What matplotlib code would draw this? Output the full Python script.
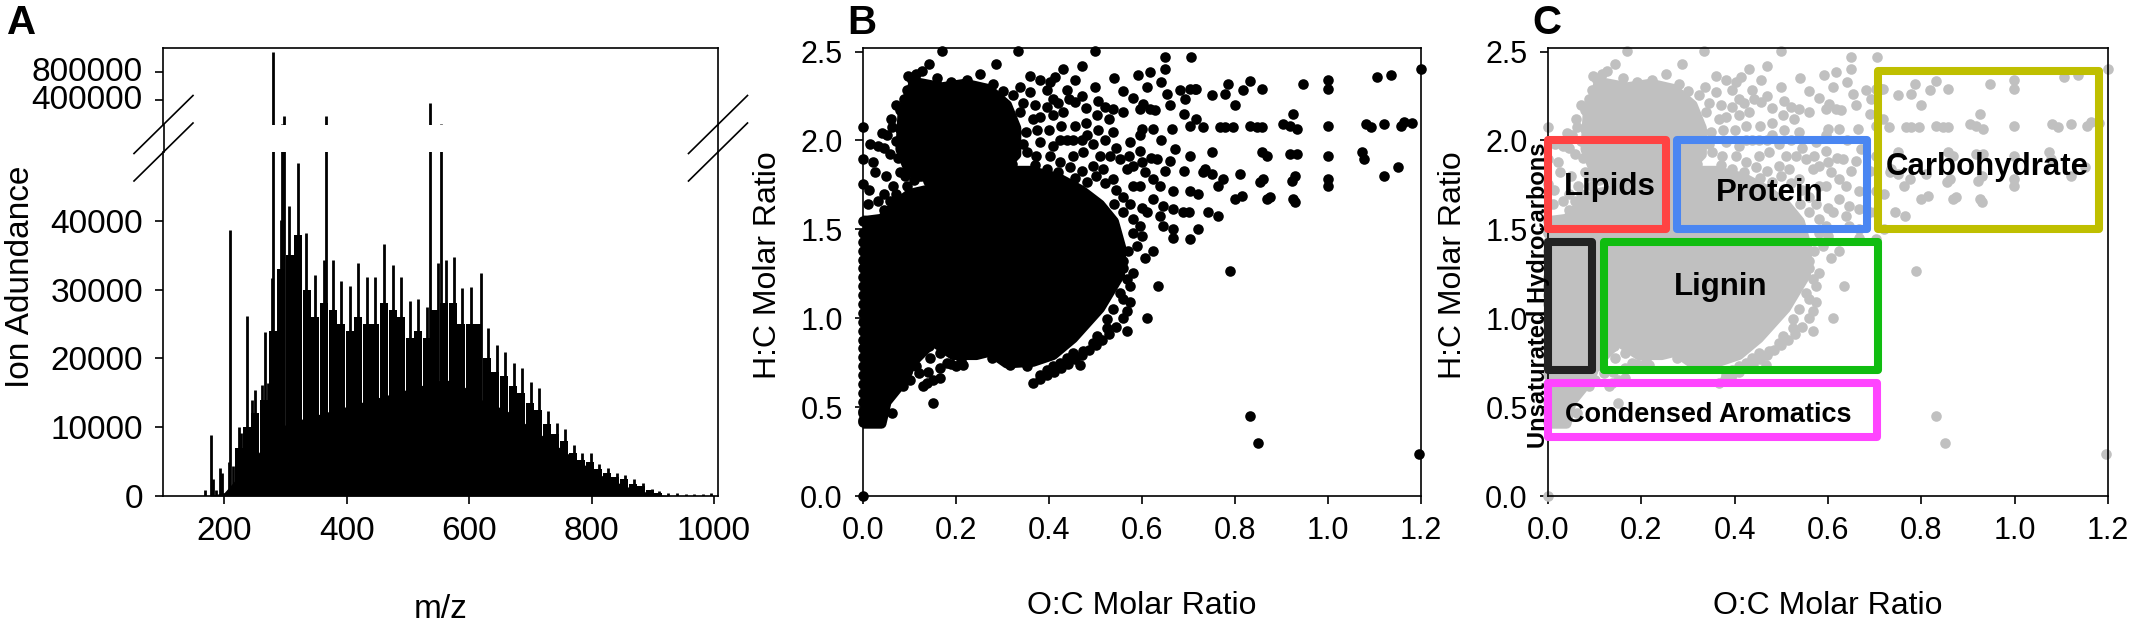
import numpy as np
import matplotlib.pyplot as plt
from matplotlib.patches import Polygon, Rectangle
from matplotlib.lines import Line2D

plt.rcParams['font.family'] = ['Liberation Sans', 'DejaVu Sans']

W, H = 2136, 629

# ---------------- panel A : mass spectrum ----------------
# tall single lines (m/z, abundance)
spike_mz = [168, 178, 182, 186, 193, 197, 207, 210, 215, 224, 227, 237, 245, 251, 262, 266, 272, 278,
            280, 292, 294, 298, 306, 320, 334, 349, 363, 367, 377, 391, 405, 419, 433, 447, 461,
            475, 489, 503, 517, 531, 536, 549, 554, 563, 576, 589, 603, 619, 631, 645, 659, 673,
            687, 701, 715, 729, 743, 757, 771, 785, 799, 813, 827, 841, 855, 869, 884, 898, 910,
            925, 940, 955, 968, 982, 995]
spike_int = [900, 8900, 2400, 900, 4000, 3300, 5000, 38700, 4300, 10100, 9100, 26100, 14000, 15400,
             16100, 23900, 16400, 31700, 1086000, 40100, 60000, 176000, 42100, 48400, 38200, 32100,
             34300, 176000, 34300, 31200, 30500, 33800, 31900, 31900, 36700, 33600, 31800, 28300,
             28700, 27500, 357000, 33800, 62000, 34300, 34700, 30300, 30400, 32400, 24400, 21900,
             21000, 19300, 18600, 16600, 15700, 12300, 10600, 9800, 7400, 6300, 6200, 4700, 4000,
             3300, 3100, 2400, 1900, 1000, 700, 500, 400, 300, 350, 300, 450]

# body of each CH2 cluster
clus_mz = [224, 237, 251, 265, 279, 293, 307, 321, 335, 349, 363, 377, 391, 405, 419, 433, 447,
           461, 475, 489, 503, 517, 531, 545, 559, 573, 587, 601, 615, 629, 643, 657, 671, 685,
           699, 713, 727, 741, 755, 769, 783, 797, 811, 825, 839, 853, 867, 881, 895, 909]
clus_int = [7000, 10000, 12000, 14000, 24000, 33000, 35000, 38000, 30000, 26000, 28000, 27000,
            25000, 24000, 26000, 25000, 25000, 28000, 27000, 26000, 23000, 24000, 23000, 27000,
            28000, 28000, 25000, 25000, 25000, 20000, 18000, 17500, 16000, 15000, 13500, 12500,
            10500, 9000, 8000, 6300, 5300, 5000, 3900, 3300, 2700, 2400, 1800, 1400, 800, 500]

# lower envelope (valleys between clusters)
base_mz = [160, 175, 200, 215, 230, 250, 270, 290, 320, 360, 400, 440, 480, 520, 560, 590, 620,
           660, 700, 740, 780, 820, 860, 900, 930]
base_int = [0, 0, 500, 2000, 3500, 5500, 8000, 10000, 11000, 12000, 13000, 14000, 15000, 16000,
            17000, 16000, 14000, 12500, 10000, 7500, 5000, 2800, 1300, 300, 0]

# ---------------- panels B / C : van Krevelen ----------------
# saturated (fully overlapping) parts of the cloud
core_oc = [0.0, 0.0, 0.040, 0.051, 0.080, 0.108, 0.151, 0.194, 0.244, 0.273, 0.309, 0.366, 0.409,
           0.452, 0.510, 0.553, 0.556, 0.540, 0.510, 0.470, 0.420, 0.360, 0.300, 0.250, 0.200,
           0.150, 0.100, 0.070, 0.040, 0.010]
core_hc = [1.550, 0.406, 0.406, 0.529, 0.623, 0.754, 0.867, 0.792, 0.792, 0.811, 0.745, 0.754,
           0.792, 0.886, 1.055, 1.243, 1.394, 1.544, 1.640, 1.720, 1.790, 1.830, 1.830, 1.790,
           1.750, 1.730, 1.700, 1.640, 1.560, 1.550]
cap_oc = [0.085, 0.110, 0.170, 0.220, 0.270, 0.310, 0.330, 0.330, 0.300, 0.220, 0.150, 0.100,
          0.080]
cap_hc = [2.170, 2.330, 2.300, 2.320, 2.290, 2.200, 2.070, 1.920, 1.840, 1.800, 1.780, 1.820,
          1.950]

col_hc = [0.43, 0.48, 0.53, 0.58, 0.63, 0.68, 0.73, 0.78, 0.83, 0.88, 0.93, 0.98, 1.03, 1.08,
          1.13, 1.18, 1.23, 1.28, 1.33, 1.38, 1.43, 1.48]

lobe = [(.080, 2.169), (.088, 2.235), (.095, 2.282), (.105, 2.338), (.115, 2.376), (.126, 2.389),
        (.097, 2.363), (.137, 2.263), (.133, 2.235), (.143, 2.432), (.169, 2.502), (.158, 2.225),
        (.180, 2.254), (.202, 2.301), (.223, 2.338), (.244, 2.282), (.266, 2.291), (.280, 2.254),
        (.295, 2.216), (.309, 2.178), (.223, 2.291), (.202, 2.235), (.180, 2.197), (.166, 2.150),
        (.144, 2.160), (.123, 2.150), (.101, 2.122), (.080, 2.066), (.062, 2.075), (.051, 2.028),
        (.033, 1.971), (.022, 1.877), (0, 2.075), (0, 1.896), (0, 1.755), (0, 1.548), (.022, 1.548),
        (.033, 1.661), (.058, 1.661), (.026, 1.821), (.058, 1.924), (.087, 1.971), (.123, 1.990),
        (.158, 2.009), (.194, 1.990), (.230, 2.009), (.266, 2.028), (.288, 2.047), (.305, 2.084),
        (.280, 2.141), (.252, 2.122), (.223, 2.141), (.194, 2.084), (.166, 2.084), (.144, 2.047),
        (.123, 2.066), (.108, 1.971), (.137, 1.915), (.166, 1.915), (.194, 1.896), (.223, 1.934),
        (.252, 1.915), (.280, 1.934), (.309, 1.953), (.080, 1.821), (.101, 1.840), (.123, 1.802),
        (.151, 1.821), (.180, 1.830), (.209, 1.840), (.237, 1.821), (.266, 1.821), (.295, 1.840),
        (.065, 1.746), (.094, 1.746), (.190, 2.270), (.212, 2.265), (.235, 2.250), (.258, 2.250),
        (.245, 2.200), (.265, 2.200), (.210, 2.190), (.232, 2.180), (.190, 2.140), (.286, 2.100),
        (.270, 2.060), (.250, 2.050), (.215, 2.045), (.178, 2.040), (.150, 2.110), (.130, 2.110),
        (.110, 2.060), (.095, 2.010), (.071, 1.995), (.045, 1.960), (.075, 1.900), (.098, 1.895),
        (.120, 1.930), (.135, 1.860), (.160, 1.870), (.190, 1.860), (.215, 1.895), (.240, 1.870),
        (.270, 1.880), (.300, 1.890), (.320, 1.990), (.330, 2.050), (.320, 2.110), (.110, 1.780),
        (.140, 1.770), (.165, 1.780), (.195, 1.790), (.225, 1.780), (.045, 1.700), (.070, 1.700),
        (.045, 1.610), (.010, 1.640), (.012, 1.720), (.015, 1.980), (.040, 2.040), (.060, 2.120),
        (.070, 2.200), (.050, 1.800), (.090, 1.800), (.118, 2.300), (.150, 2.300), (.160, 2.350),
        (.190, 2.330), (.280, 2.320), (.300, 2.280)]

mid = [(.334, 2.502), (.499, 2.502), (.287, 2.432), (.252, 2.376), (.323, 2.254), (.337, 2.301),
       (.359, 2.272), (.381, 2.338), (.402, 2.329), (.413, 2.357), (.395, 2.282), (.409, 2.235),
       (.438, 2.282), (.456, 2.338), (.442, 2.235), (.456, 2.216), (.338, 2.160), (.366, 2.122),
       (.381, 2.131), (.409, 2.141), (.430, 2.160), (.424, 2.000), (.438, 2.000), (.452, 2.000),
       (.409, 1.971), (.381, 1.990), (.352, 1.934), (.373, 1.915), (.402, 1.915), (.424, 1.877),
       (.452, 1.915), (.474, 1.934), (.481, 2.028), (.503, 2.141), (.499, 2.301), (.521, 2.188),
       (.538, 2.178), (.560, 2.160), (.538, 2.047), (.528, 2.122), (.574, 1.990), (.596, 1.943),
       (.571, 1.915), (.553, 1.896), (.531, 1.915), (.509, 1.915), (.495, 1.858), (.481, 1.764),
       (.517, 1.840), (.538, 1.783), (.567, 1.840), (.581, 1.858), (.596, 2.178), (.617, 2.178),
       (.628, 2.169), (.603, 2.207), (.592, 2.366), (.617, 2.385), (.649, 2.404), (.649, 2.470),
       (.705, 2.470), (.653, 2.263), (.682, 2.282), (.692, 2.235), (.714, 2.291), (.664, 2.066),
       (.703, 2.084), (.717, 2.122), (.624, 2.066), (.599, 2.066), (.596, 2.028), (.632, 1.896),
       (.660, 1.887), (.703, 1.915), (.606, 1.821), (.624, 1.783), (.639, 1.746), (.596, 1.746),
       (.581, 1.746), (.624, 1.670), (.646, 1.633), (.667, 1.717), (.703, 1.717), (.667, 1.614),
       (.689, 1.595), (.639, 1.576), (.646, 1.520), (.667, 1.454), (.703, 1.445), (.667, 1.501),
       (.610, 1.595), (.596, 1.520), (.581, 1.482), (.589, 1.407), (.606, 1.341), (.624, 1.379),
       (.635, 1.181), (.581, 1.257), (.567, 1.219), (.553, 1.144), (.559, 1.106), (.538, 1.050),
       (.524, 0.993), (.610, 1.003), (.567, 0.927), (.320, 1.870), (.345, 1.830), (.370, 1.860),
       (.395, 1.840), (.420, 1.820), (.445, 1.850), (.470, 1.830), (.330, 1.790), (.410, 1.780),
       (.455, 1.790), (.500, 1.800), (.520, 1.760), (.545, 1.720), (.560, 1.680), (.575, 1.640),
       (.560, 1.600), (.540, 1.640), (.600, 1.620), (.580, 1.560), (.600, 1.460), (.570, 1.380),
       (.560, 1.320), (.560, 1.280), (.575, 1.180), (.345, 2.210), (.370, 2.200), (.395, 2.190),
       (.420, 2.210), (.470, 2.250), (.480, 2.180), (.505, 2.220), (.350, 2.050), (.375, 2.060),
       (.400, 2.060), (.425, 2.080), (.455, 2.080), (.480, 2.100), (.505, 2.060), (.520, 2.000),
       (.545, 1.960), (.495, 1.980), (.470, 2.000), (.345, 1.980), (.360, 2.360), (.430, 2.400),
       (.470, 2.420), (.540, 2.350), (.560, 2.280), (.580, 2.240), (.610, 2.300), (.640, 2.330),
       (.660, 2.200), (.690, 2.150), (.640, 2.000), (.670, 1.950), (.690, 1.830), (.650, 1.830),
       (.620, 1.900), (.600, 1.880), (.700, 1.600), (.720, 1.700), (.720, 1.500)]

right = [(.750, 1.934), (.857, 1.934), (.868, 1.915), (.918, 1.924), (.933, 1.924), (.999, 1.915),
         (.999, 2.084), (.768, 2.075), (.778, 2.075), (.796, 2.075), (.832, 2.084), (.847, 2.075),
         (.857, 2.075), (.904, 2.094), (.918, 2.084), (.933, 2.066), (.925, 2.150), (.732, 1.821),
         (.750, 1.812), (.775, 1.783), (.763, 1.746), (.811, 1.812), (.861, 1.783), (.854, 1.764),
         (.922, 1.774), (.929, 1.802), (.999, 1.783), (.999, 1.746), (.800, 1.670), (.814, 1.689),
         (.868, 1.670), (.875, 1.680), (.929, 1.652), (.925, 1.670), (.743, 1.595), (.764, 1.576),
         (.786, 2.320), (.800, 2.197), (.778, 2.263), (.818, 2.282), (.832, 2.334), (.857, 2.287),
         (.947, 2.316), (.999, 2.338), (.999, 2.291), (.750, 2.254), (.703, 2.291), (.717, 2.291),
         (.731, 2.074), (.735, 1.839), (1.081, 2.093), (1.092, 2.074), (1.156, 2.083),
         (1.163, 2.102), (1.074, 1.933), (1.078, 1.896), (1.105, 2.355), (1.135, 2.370),
         (1.200, 2.400), (1.120, 2.090), (1.180, 2.100), (1.150, 1.850), (1.120, 1.800)]

low = [(.524, 0.946), (.503, 0.899), (.495, 0.862), (.474, 0.815), (.467, 0.739), (.452, 0.805),
       (.438, 0.777), (.424, 0.749), (.409, 0.730), (.395, 0.711), (.381, 0.683), (.366, 0.636),
       (.352, 0.730), (.338, 0.758), (.316, 0.739), (.277, 0.777), (.244, 0.824), (.223, 0.805),
       (.216, 0.739), (.201, 0.730), (.180, 0.749), (.166, 0.805), (.144, 0.777), (.141, 0.843),
       (.123, 0.824), (.115, 0.730), (.101, 0.655), (.087, 0.617), (.130, 0.617), (.137, 0.636),
       (.151, 0.655), (.166, 0.664), (.151, 0.523), (.062, 0.467), (.029, 0.542), (.029, 0.419),
       (0, 0.419), (0, 0.467), (0, 0.0), (.789, 1.266), (.832, 0.448), (.850, 0.297),
       (1.196, 0.235), (.380, .660), (.395, .680), (.410, .700), (.425, .720), (.440, .745),
       (.455, .770), (.470, .795), (.485, .820), (.500, .850), (.515, .880), (.530, .910),
       (.545, .950), (.560, 1.000), (.567, 1.040), (.575, 1.090), (.095, .700), (.120, .690),
       (.140, .700), (.165, .720), (.190, .740), (.210, .760)]

# compound class regions (O:C min, H:C min, O:C max, H:C max)
regions = {
    'Lipids': (0.0, 1.5, 0.252, 2.0),
    'Protein': (0.276, 1.5, 0.684, 2.0),
    'Carbohydrate': (0.708, 1.5, 1.181, 2.39),
    'Unsaturated Hydrocarbons': (0.0, 0.708, 0.094, 1.43),
    'Lignin': (0.119, 0.708, 0.708, 1.43),
    'Condensed Aromatics': (0.0, 0.332, 0.704, 0.633),
}
region_colors = {
    'Lipids': '#ff4343', 'Protein': '#4a86f2', 'Carbohydrate': '#bfbf00',
    'Unsaturated Hydrocarbons': '#222222', 'Lignin': '#10bd10', 'Condensed Aromatics': '#ff45ff',
}
label_pos = {
    'Lipids': (0.133, 1.74), 'Protein': (0.476, 1.706), 'Carbohydrate': (0.942, 1.85),
    'Lignin': (0.369, 1.177), 'Condensed Aromatics': (0.344, 0.454),
}

pts = np.array(lobe + mid + right + low)
pt_oc = np.concatenate([pts[:, 0], np.zeros(len(col_hc))])
pt_hc = np.concatenate([pts[:, 1], col_hc])


def rect(l, t, r, b):
    # pixel box -> figure fraction
    return [l / W, 1 - b / H, (r - l) / W, (b - t) / H]


fig = plt.figure(figsize=(W / 100, H / 100), dpi=100)

axA_top = fig.add_axes(rect(163, 48, 718, 124.5))
axA = fig.add_axes(rect(163, 152, 718, 496))
axB = fig.add_axes(rect(863, 48, 1421, 496))
axC = fig.add_axes(rect(1548, 48, 2108, 496))

lw_sp = 1.2
for ax in [axA_top, axA, axB, axC]:
    for s in ax.spines.values():
        s.set_linewidth(lw_sp)
    ax.tick_params(direction='out', length=5.5, width=lw_sp, top=False, right=False)

# --- A ---
for ax in [axA_top, axA]:
    ax.fill_between(base_mz, base_int, 0, color='black', lw=0)
    ax.bar(clus_mz, clus_int, width=13, color='black', lw=0)
    ax.vlines(spike_mz, 0, spike_int, color='black', lw=2.0)
    ax.set_xlim(100, 1006.6)

axA.set_ylim(0, 50000)
axA.set_yticks([0, 10000, 20000, 30000, 40000])
axA.set_xticks([200, 400, 600, 800, 1000])
axA.spines['top'].set_visible(False)
axA.tick_params(labelsize=24, pad=9)

axA_top.set_ylim(50000, 1150000)
axA_top.set_yticks([400000, 800000])
axA_top.set_xticks([])
axA_top.spines['bottom'].set_visible(False)
axA_top.tick_params(labelsize=24, pad=9)
for lab in axA_top.get_yticklabels():
    lab.set_va('center')

# break marks and spine across the gap
for cx in [163.5, 718]:
    fig.add_artist(Line2D([cx / W, cx / W], [1 - 152 / H, 1 - 124.5 / H], color='black', lw=lw_sp))
    for cy in [124.5, 152]:
        fig.add_artist(Line2D([(cx - 29.5) / W, (cx + 29.5) / W],
                              [1 - (cy + 29) / H, 1 - (cy - 29) / H], color='black', lw=lw_sp))

fig.text(21 / W, 1 - 277 / H, 'Ion Adundance', rotation=90, fontsize=24, ha='center', va='center')
fig.text(441 / W, 1 - 610 / H, 'm/z', fontsize=24, ha='center', va='center')

# --- B & C ---
for ax, col in [(axB, 'black'), (axC, '#c0c0c0')]:
    for px, py in [(core_oc, core_hc), (cap_oc, cap_hc)]:
        ax.add_patch(Polygon(np.column_stack([px, py]), closed=True, facecolor=col,
                             edgecolor=col, lw=7, joinstyle='round', zorder=2))
    ax.scatter(pt_oc, pt_hc, s=58, color=col, lw=0, zorder=2, clip_on=False)
    ax.set_xlim(0, 1.2)
    ax.set_ylim(0, 2.52)
    ax.set_xticks(np.arange(0, 1.21, 0.2))
    ax.set_yticks(np.arange(0, 2.51, 0.5))
    ax.set_xticklabels(['0.0', '0.2', '0.4', '0.6', '0.8', '1.0', '1.2'])
    ax.set_yticklabels(['0.0', '0.5', '1.0', '1.5', '2.0', '2.5'])
    ax.tick_params(labelsize=22, pad=9)

for name, (x0, y0, x1, y1) in regions.items():
    axC.add_patch(Rectangle((x0, y0), x1 - x0, y1 - y0, fill=False, lw=5.8,
                            edgecolor=region_colors[name], joinstyle='round', zorder=4,
                            clip_on=False))
for name, (x, y) in label_pos.items():
    fs = 19.5 if name == 'Condensed Aromatics' else 22.5
    axC.text(x, y, name, fontsize=fs, fontweight='bold', ha='center', va='center', zorder=5)
fig.text(1538 / W, 1 - 295 / H, 'Unsaturated Hydrocarbons', rotation=90, fontsize=17,
         fontweight='bold', ha='center', va='center', zorder=6)

for cx in [768, 1453]:
    fig.text(cx / W, 1 - 265 / H, 'H:C Molar Ratio', rotation=90, fontsize=23,
             ha='center', va='center')
for cx in [1142, 1828]:
    fig.text(cx / W, 1 - 606 / H, 'O:C Molar Ratio', fontsize=23, ha='center', va='center')

for lx, letter in [(22, 'A'), (862, 'B'), (1547, 'C')]:
    fig.text(lx / W, 1 - 23 / H, letter, fontsize=29, fontweight='bold', ha='center', va='center')

fig.savefig('out.png', dpi=100)
